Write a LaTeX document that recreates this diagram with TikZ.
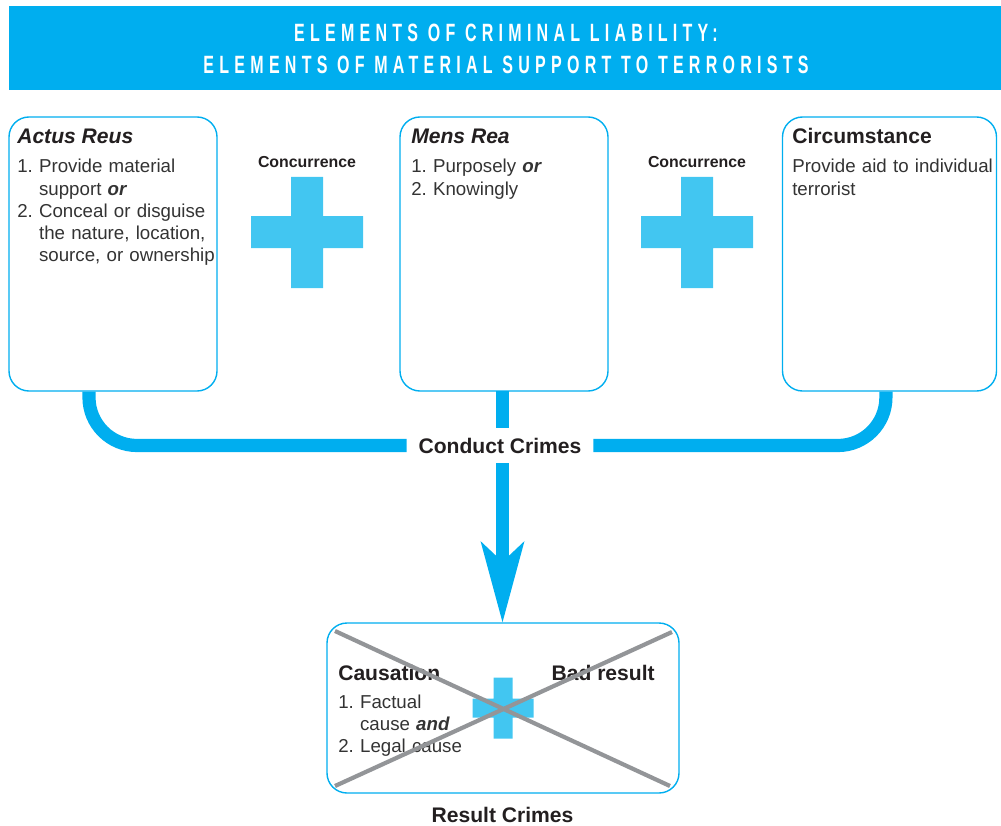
\documentclass[tikz,border=0pt]{standalone}
\usepackage{fontspec}
\setmainfont{Liberation Sans}
\newfontfamily\titlefont[FakeStretch=0.64,LetterSpace=21]{Liberation Sans Bold}
\usetikzlibrary{arrows.meta}
\definecolor{barcyan}{HTML}{00AEEF}
\definecolor{pluscyan}{HTML}{42C6F1}
\definecolor{crossgray}{HTML}{939598}
\definecolor{inktext}{HTML}{231F20}
\definecolor{bodytext}{HTML}{333333}
\newcommand\hang{\phantom{1.}\ }
\tikzset{
  panel/.style={draw=barcyan, line width=0.35mm, rounded corners=5mm, minimum width=52mm, minimum height=68.5mm},
  boxhead/.style={anchor=base west, inner sep=0pt, text=inktext, font=\fontsize{15}{18}\selectfont\bfseries},
  boxitems/.style={anchor=base west, inner sep=0pt, text=bodytext, text width=60mm, align=left, font=\fontsize{13.3}{15.8}\selectfont\frenchspacing},
  conctag/.style={text=inktext, font=\fontsize{11.3}{13}\selectfont\bfseries},
  crimetag/.style={text=inktext, inner sep=0pt, font=\fontsize{15}{18}\selectfont\bfseries},
  flowline/.style={barcyan, line width=3.3mm},
}
\begin{document}
\begin{tikzpicture}[x=0.25mm, y=-0.25mm]
\useasboundingbox (0,0) rectangle (1001,825);
% title bar
\fill[barcyan] (9,6) rectangle (1001,90);
\node[align=center, text=white, font=\titlefont\fontsize{17.8}{22.8}\selectfont] (title) at (506,49)
  {ELEMENTS OF CRIMINAL LIABILITY:\\ELEMENTS OF MATERIAL SUPPORT TO TERRORISTS};
% the three elements
\node[panel] (actus) at (113,254) {};
\node[panel] (mens) at (504,254) {};
\node[panel, minimum width=53.5mm] (circ) at (889.5,254) {};
\node[boxhead] (actushead) at (17,144) {\itshape Actus Reus};
\node[boxitems] (actusitems) at (17,173) {1. Provide material\\\hang support \textbf{\textit{or}}\\2. Conceal or disguise\\\hang the nature, location,\\\hang source, or ownership};
\node[boxhead] (menshead) at (411,144) {\itshape Mens Rea};
\node[boxitems] (mensitems) at (411,173) {1. Purposely \textbf{\textit{or}}\\2. Knowingly};
\node[boxhead] (circhead) at (792,144) {Circumstance};
\node[boxitems] (circitems) at (792,173) {Provide aid to individual\\terrorist};
% concurrence
\node[conctag] (concA) at (307,162) {Concurrence};
\node[conctag] (concB) at (697,162) {Concurrence};
\fill[pluscyan] (291,177) rectangle (323,288) (251,216) rectangle (363,248);
\fill[pluscyan] (681,177) rectangle (713,288) (641,216) rectangle (753,248);
% conduct crimes
\node[crimetag, minimum width=46.5mm, minimum height=8.75mm] (conduct) at (500,445.5) {Conduct Crimes};
\coordinate (drop) at (502.5,391);
\draw[flowline, rounded corners=12mm] ([xshift=-6mm]actus.south) |- (conduct.west);
\draw[flowline, rounded corners=12mm] ([xshift=-0.9mm]circ.south) |- (conduct.east);
\draw[flowline] (drop) -- (drop |- conduct.north);
\draw[flowline, -{Stealth[length=20mm, width=10.5mm, inset=4.75mm]}] (drop |- conduct.south) -- (drop |- 0,623);
% result crimes
\node[panel, minimum width=88mm, minimum height=42.5mm] (result) at (503,708) {};
\node[boxhead] (causehead) at (338,680) {Causation};
\node[boxhead, anchor=base east] (badhead) at (655,680) {Bad result};
\node[boxitems] (causeitems) at (338,708) {1. Factual\\\hang cause \textbf{\textit{and}}\\2. Legal cause};
\fill[pluscyan] (493.5,677.5) rectangle (512.5,738.5) (472.5,698.5) rectangle (533.5,717.5);
\draw[crossgray, line width=1.05mm] (335,631) -- (670,786) (335,786) -- (672,632);
\node[crimetag] (resultname) at (502.5,815) {Result Crimes};
\end{tikzpicture}
\end{document}
